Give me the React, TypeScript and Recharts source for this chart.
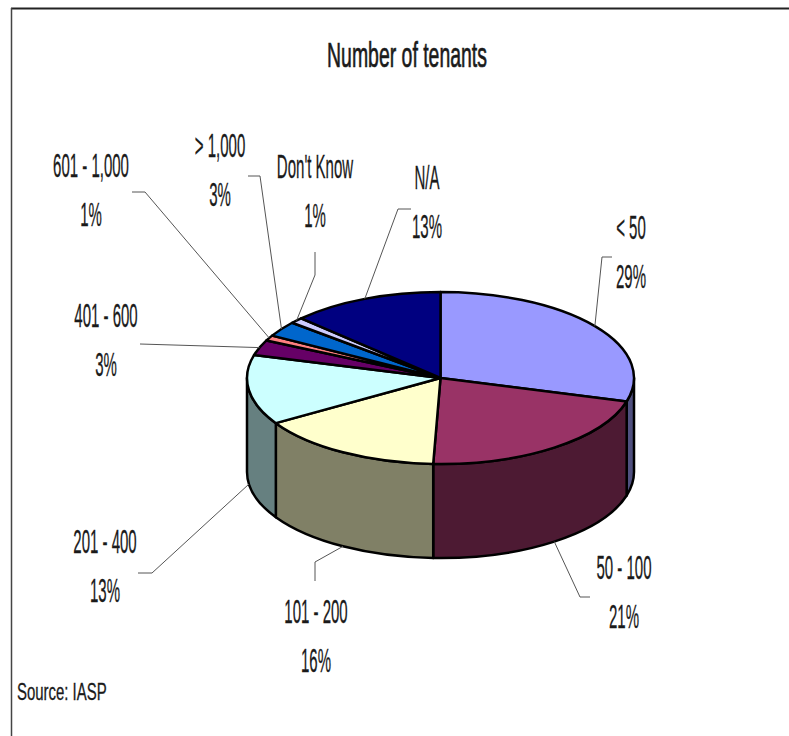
import { PieChart, Pie } from 'recharts';

const names = ['< 50', '50 - 100', '101 - 200', '201 - 400', '401 - 600', '601 - 1,000', '> 1,000', "Don't Know", 'N/A'];
const shares = [29.4, 21.2, 15.6, 13.1, 2.9, 1.0, 2.9, 1.1, 12.8];
const topColors = ['#9999ff', '#993366', '#ffffcc', '#ccffff', '#660066', '#ff8080', '#0066cc', '#ccccff', '#000080'];
const wallColors = ['#50507f', '#4d1a33', '#808066', '#668080', '#330033', '#804040', '#003366', '#666680', '#000040'];

const data = names.map((name, i) => ({ name, value: shares[i] }));

// label placement, in page pixels: text centre, first baseline, leader elbow, leader end
const labelSpots = [
  { x: 631, y: 239, elbow: [602, 257], end: [612, 257] },
  { x: 624, y: 579, elbow: [580, 597], end: [590, 597] },
  { x: 316, y: 623, elbow: [315, 562], end: [315, 581] },
  { x: 105, y: 553, elbow: [152, 573], end: [138, 573] },
  { x: 106, y: 327, elbow: [140, 344], end: [140, 344] },
  { x: 91, y: 177, elbow: [145, 192], end: [132, 192] },
  { x: 220, y: 157, elbow: [260, 176], end: [248, 176] },
  { x: 315, y: 178, elbow: [315, 275], end: [315, 252] },
  { x: 427, y: 189, elbow: [398, 209], end: [411, 209] },
];

const TILT = 86 / 193.5;
const DEPTH = 94;
const RAD = Math.PI / 180;

function ThinText({ x, y, size, squeeze, weight = 0.3, anchor = 'middle', children }: any) {
  return (
    <text
      transform={`translate(${x},${y}) scale(${squeeze},1)`}
      fontFamily="'Liberation Sans', Arial, sans-serif"
      fontSize={size}
      textAnchor={anchor}
      fill="#1a1a1a"
      stroke="#1a1a1a"
      strokeWidth={weight}
    >
      {children}
    </text>
  );
}

function Slice3D(props: any) {
  const { cx, cy, outerRadius, startAngle, endAngle, index } = props;
  const rx = outerRadius;
  const ry = outerRadius * TILT;
  const pt = (deg: number, drop = 0) => [cx + rx * Math.cos(deg * RAD), cy - ry * Math.sin(deg * RAD) + drop];
  const [x0, y0] = pt(startAngle);
  const [x1, y1] = pt(endAngle);
  const large = Math.abs(endAngle - startAngle) > 180 ? 1 : 0;
  const top = `M${cx},${cy} L${x0},${y0} A${rx},${ry} 0 ${large} 1 ${x1},${y1} Z`;

  // angles run clockwise from 90 to -270; the front wall is the part from 0 to -180
  const a = Math.min(startAngle, 0);
  const b = Math.max(endAngle, -180);
  let wall = null;
  if (a > b) {
    const [wx0, wy0] = pt(a);
    const [wx1, wy1] = pt(b);
    const [bx0, by0] = pt(a, DEPTH);
    const [bx1, by1] = pt(b, DEPTH);
    wall = (
      <path
        d={`M${wx0},${wy0} A${rx},${ry} 0 0 1 ${wx1},${wy1} L${bx1},${by1} A${rx},${ry} 0 0 0 ${bx0},${by0} Z`}
        fill={wallColors[index]}
        stroke="#000"
        strokeWidth={2.5}
        strokeLinejoin="round"
      />
    );
  }
  return (
    <g>
      {wall}
      <path d={top} fill={topColors[index]} stroke="#000" strokeWidth={2.5} strokeLinejoin="round" />
    </g>
  );
}

function SliceLabel(props: any) {
  const { cx, cy, outerRadius, midAngle, index, name, percent } = props;
  const spot = labelSpots[index];
  const sx = cx + outerRadius * Math.cos(midAngle * RAD);
  let sy = cy - outerRadius * TILT * Math.sin(midAngle * RAD);
  if (Math.sin(midAngle * RAD) < 0) sy += DEPTH;
  const pts = `${sx},${sy} ${spot.elbow.join(',')} ${spot.end.join(',')}`;
  return (
    <g>
      <polyline points={pts} fill="none" stroke="#555" strokeWidth={1} />
      <ThinText x={spot.x} y={spot.y} size={33} squeeze={0.455}>{name}</ThinText>
      <ThinText x={spot.x} y={spot.y + 49} size={33} squeeze={0.455}>{`${Math.round(percent * 100)}%`}</ThinText>
    </g>
  );
}

export default function App() {
  return (
    <div style={{ position: 'absolute', left: 0, top: 0, width: 789, height: 736, background: '#fff' }}>
      <PieChart width={789} height={736} margin={{ top: 0, right: 0, bottom: 0, left: 0 }}>
        <line x1={11} y1={8.5} x2={789} y2={8.5} stroke="#222" strokeWidth={2} />
        <line x1={11.5} y1={8} x2={11.5} y2={736} stroke="#444" strokeWidth={1.5} />
        <ThinText x={407} y={67} size={36} squeeze={0.54} weight={0.7}>Number of tenants</ThinText>
        <ThinText x={17} y={700} size={23} squeeze={0.65} anchor="start">Source: IASP</ThinText>
        <Pie
          data={data}
          dataKey="value"
          nameKey="name"
          cx={440.5}
          cy={378}
          outerRadius={193.5}
          startAngle={90}
          endAngle={-270}
          paddingAngle={0}
          stroke="none"
          shape={Slice3D}
          label={SliceLabel}
          labelLine={false}
          isAnimationActive={false}
        />
      </PieChart>
    </div>
  );
}
